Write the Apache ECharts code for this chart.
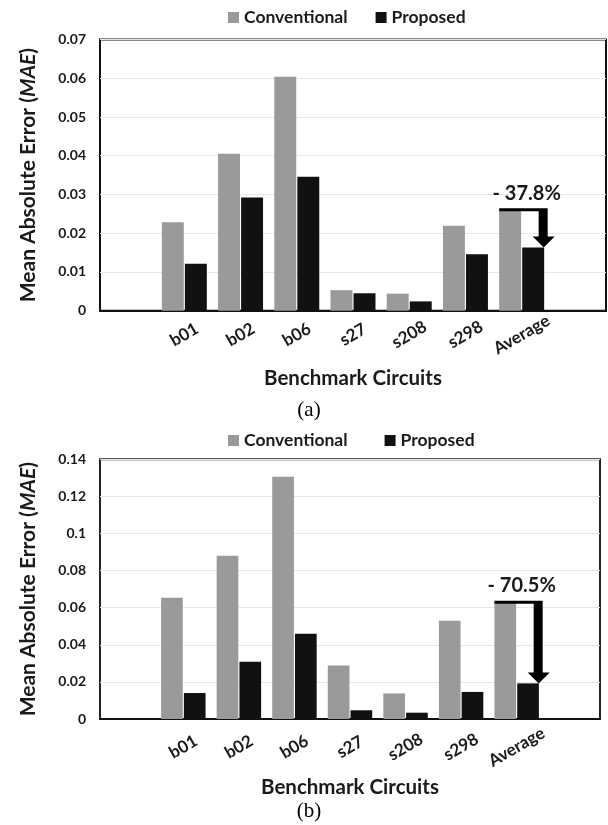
<!DOCTYPE html>
<html>
<head>
<meta charset="utf-8">
<script src="https://cdn.jsdelivr.net/npm/echarts@6/dist/echarts.min.js"></script>
<style>
html,body{margin:0;padding:0;background:#fff;}
#chart{width:608px;height:825px;}
</style>
</head>
<body>
<div id="chart"></div>
<script>
// ---- data ----
const categories = ['', 'b01', 'b02', 'b06', 's27', 's208', 's298', 'Average', ''];
const seriesNames = ['Conventional', 'Proposed'];
const convA = [null, 0.0228, 0.0405, 0.0604, 0.0053, 0.0044, 0.0219, 0.0262, null];
const propA = [null, 0.0121, 0.0292, 0.0346, 0.0045, 0.0024, 0.0146, 0.0163, null];
const convB = [null, 0.0654, 0.0880, 0.1306, 0.0289, 0.0138, 0.0530, 0.0632, null];
const propB = [null, 0.0140, 0.0309, 0.0460, 0.0047, 0.0034, 0.0146, 0.0192, null];
const yMaxA = 0.07, yStepA = 0.01;
const yMaxB = 0.14, yStepB = 0.02;
const reductionLabels = ['- 37.8%', '- 70.5%'];
const panelLabels = ['(a)', '(b)'];
const avgIndex = 7;

const FONT = 'Lato';
const TXT = '#1a1a1a';
const GRAY = '#9a9a9a';
const BLACK = '#111111';

function arrowRenderer(label) {
  return function (params, api) {
    const idx = api.value(0);
    const top = api.coord([idx, api.value(1)]);
    const tip = api.coord([idx, api.value(2)]);
    const band = api.size([1, 0])[0];
    const cx = top[0];
    const left = cx - band * 0.4;
    const sL = cx + 17, sR = cx + 26, hL = cx + 11, hR = cx + 33, hx = cx + 22;
    const yT = top[1], yH = tip[1] - 11;
    return {
      type: 'group',
      children: [
        {
          type: 'polygon',
          shape: { points: [[left, yT - 1], [sR, yT - 1], [sR, yH], [hR, yH], [hx, tip[1]], [hL, yH], [sL, yH], [sL, yT + 2], [left, yT + 2]] },
          style: { fill: '#000' }
        },
        {
          type: 'text',
          style: {
            text: label, x: cx + 5, y: yT - 16,
            textAlign: 'center', textVerticalAlign: 'middle',
            align: 'center', verticalAlign: 'middle',
            font: 'bold 20px ' + FONT, fill: TXT
          }
        }
      ]
    };
  };
}

function xAxisCfg(gridIndex, gap, margin) {
  return {
    type: 'category', gridIndex: gridIndex, data: categories,
    axisTick: { show: false },
    axisLine: { show: true, lineStyle: { color: '#111', width: 2 } },
    axisLabel: {
      rotate: 30, interval: 0, align: 'center', verticalAlign: 'middle', margin: margin,
      fontFamily: FONT, fontWeight: 'bold', fontSize: 17, color: TXT
    },
    name: 'Benchmark Circuits', nameLocation: 'middle', nameGap: gap,
    nameTextStyle: { fontFamily: FONT, fontWeight: 'bold', fontSize: 20.5, color: TXT }
  };
}
function yAxisCfg(gridIndex, max, step) {
  return {
    type: 'value', gridIndex: gridIndex, min: 0, max: max, interval: step,
    axisLine: { show: false }, axisTick: { show: false },
    splitLine: { lineStyle: { color: '#e6e6e6', width: 1 } },
    axisLabel: { margin: 14, fontFamily: FONT, fontWeight: 'bold', fontSize: 14, color: TXT },
    name: 'Mean Absolute Error ({i|MAE})', nameLocation: 'middle', nameGap: 61, nameRotate: 90,
    nameTextStyle: {
      fontFamily: FONT, fontWeight: 'bold', fontSize: 21, color: TXT,
      rich: { i: { fontFamily: FONT, fontWeight: 'bold', fontStyle: 'italic', fontSize: 21, color: TXT } }
    }
  };
}
function barSeries(name, data, idx, color) {
  return {
    name: name, type: 'bar', xAxisIndex: idx, yAxisIndex: idx, data: data,
    barCategoryGap: '20%', barGap: '5%',
    itemStyle: { color: color }, animation: false
  };
}

const chart = echarts.init(document.getElementById('chart'), null, { renderer: 'canvas' });
chart.setOption({
  animation: false,
  title: [
    { text: panelLabels[0], left: 309, top: 400, textAlign: 'center', padding: 0,
      textStyle: { fontFamily: 'Liberation Serif', fontWeight: 'normal', fontSize: 21, color: '#000' } },
    { text: panelLabels[1], left: 309, top: 801, textAlign: 'center', padding: 0,
      textStyle: { fontFamily: 'Liberation Serif', fontWeight: 'normal', fontSize: 21, color: '#000' } }
  ],
  legend: [
    { data: seriesNames, left: 228, top: 8, padding: 0, itemWidth: 11, itemHeight: 11, itemGap: 28, icon: 'rect',
      textStyle: { fontFamily: FONT, fontWeight: 'bold', fontSize: 17.5, color: TXT, lineHeight: 19 } },
    { data: seriesNames, left: 228, top: 431, padding: 0, itemWidth: 11, itemHeight: 11, itemGap: 37, icon: 'rect',
      textStyle: { fontFamily: FONT, fontWeight: 'bold', fontSize: 17.5, color: TXT, lineHeight: 19 } }
  ],
  grid: [
    { left: 100, top: 39.5, width: 506, height: 271.2, show: true, borderColor: '#111', borderWidth: 2, containLabel: false },
    { left: 100, top: 459.3, width: 500, height: 259.7, show: true, borderColor: '#222', borderWidth: 2, containLabel: false }
  ],
  xAxis: [xAxisCfg(0, 57, 24), xAxisCfg(1, 58, 28)],
  yAxis: [yAxisCfg(0, yMaxA, yStepA), yAxisCfg(1, yMaxB, yStepB)],
  series: [
    barSeries(seriesNames[0], convA, 0, GRAY),
    barSeries(seriesNames[1], propA, 0, BLACK),
    barSeries(seriesNames[0], convB, 1, GRAY),
    barSeries(seriesNames[1], propB, 1, BLACK),
    { type: 'custom', name: 'arrowA', xAxisIndex: 0, yAxisIndex: 0, z: 10,
      renderItem: arrowRenderer(reductionLabels[0]),
      encode: { x: 0, y: [1, 2] },
      data: [[avgIndex, convA[avgIndex], propA[avgIndex]]] },
    { type: 'custom', name: 'arrowB', xAxisIndex: 1, yAxisIndex: 1, z: 10,
      renderItem: arrowRenderer(reductionLabels[1]),
      encode: { x: 0, y: [1, 2] },
      data: [[avgIndex, convB[avgIndex], propB[avgIndex]]] }
  ]
});
</script>
</body>
</html>
